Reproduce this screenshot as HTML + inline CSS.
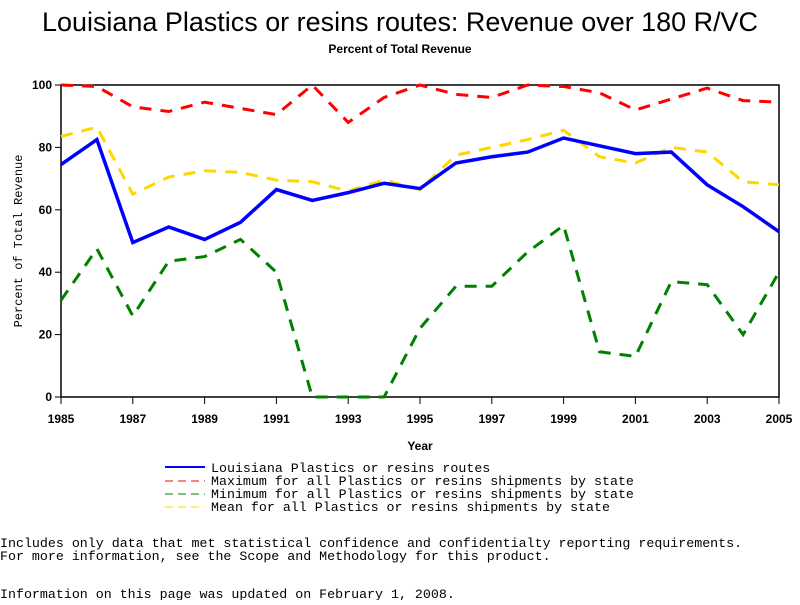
<!DOCTYPE html>
<html><head><meta charset="utf-8"><style>
body{margin:0;background:#fff;width:800px;height:600px;overflow:hidden}
svg text{font-family:"Liberation Sans",sans-serif}
.m{font-family:"Liberation Mono",monospace;font-size:13.3px}
</style></head><body>
<svg id="c" width="800" height="600">
<text x="400" y="31" font-size="26.5" text-anchor="middle" textLength="716" lengthAdjust="spacingAndGlyphs">Louisiana Plastics or resins routes: Revenue over 180 R/VC</text>
<text x="400" y="53" font-size="12" font-weight="bold" text-anchor="middle">Percent of Total Revenue</text>
<rect x="61" y="85" width="718" height="312" fill="none" stroke="#000" stroke-width="1.5"/>
<g id="axes"></g>
<g id="series"></g>
<text transform="translate(22,241) rotate(-90)" text-anchor="middle" style="font-family:'Liberation Mono',monospace;font-size:12px">Percent of Total Revenue</text>
<text x="420" y="450" font-size="12" font-weight="bold" text-anchor="middle">Year</text>
<g>
<line x1="165" y1="467" x2="205" y2="467" stroke="#0000ff" stroke-width="2"/>
<text x="211" y="472" class="m">Louisiana Plastics or resins routes</text>
<line x1="165" y1="481" x2="205" y2="481" stroke="#ff0000" stroke-dasharray="8,5"/>
<text x="211" y="485" class="m">Maximum for all Plastics or resins shipments by state</text>
<line x1="165" y1="494" x2="205" y2="494" stroke="#008000" stroke-dasharray="8,5"/>
<text x="211" y="498" class="m">Minimum for all Plastics or resins shipments by state</text>
<line x1="165" y1="507" x2="205" y2="507" stroke="#ffd700" stroke-dasharray="8,5"/>
<text x="211" y="511" class="m">Mean for all Plastics or resins shipments by state</text>
</g>
<text x="0" y="547" class="m">Includes only data that met statistical confidence and confidentialty reporting requirements.</text>
<text x="0" y="560" class="m">For more information, see the Scope and Methodology for this product.</text>
<text x="0" y="598" class="m">Information on this page was updated on February 1, 2008.</text>
</svg>
<script>
const years=[1985,1986,1987,1988,1989,1990,1991,1992,1993,1994,1995,1996,1997,1998,1999,2000,2001,2002,2003,2004,2005];
const louisiana=[74.5,82.5,49.5,54.5,50.5,56,66.5,63,65.5,68.5,66.8,75,77,78.5,83,80.5,78,78.5,68,61,53];
const maximum=[100,99.5,93,91.5,94.5,92.5,90.5,100,88,96,100,97,96,100,99.5,97.5,92,95.5,99,95,94.5];
const minimum=[31,47.5,26,43.5,45,50.5,40,0,0,0,22,35.5,35.5,46.5,55,14.5,13,37,36,20,40];
const mean=[83.5,86.5,65,70.5,72.5,72,69.5,69,66,69.5,66.5,77.5,80,82.5,85.5,77,75,80,78.5,69,68];
const yTicks=[0,20,40,60,80,100];
const xTickLabels=[1985,1987,1989,1991,1993,1995,1997,1999,2001,2003,2005];
const NS="http://www.w3.org/2000/svg";
const X=v=>61+(v-1985)*(718/20), Y=v=>397-v*3.12;
const ax=document.getElementById('axes'), sg=document.getElementById('series');
function mk(t,a,p){const e=document.createElementNS(NS,t);for(const k in a)e.setAttribute(k,a[k]);p.appendChild(e);return e;}
yTicks.forEach(v=>{
 mk('line',{x1:55,x2:61,y1:Y(v),y2:Y(v),stroke:'#000'},ax);
 const t=mk('text',{x:52,y:Y(v)+4,'font-size':12,'font-weight':'bold','text-anchor':'end'},ax);t.textContent=v;
 
 
});
xTickLabels.forEach(v=>{
 mk('line',{x1:X(v),x2:X(v),y1:397,y2:404,stroke:'#000'},ax);
 const t=mk('text',{x:X(v),y:423,'font-size':12,'font-weight':'bold','text-anchor':'middle'},ax);t.textContent=v;
 
 
});
function line(d,col,w,dash,name){
 const p=mk('polyline',{points:d.map((v,i)=>X(years[i])+','+Y(v)).join(' '),fill:'none',stroke:col,'stroke-width':w,'stroke-dasharray':dash},sg);
 
 
}
line(maximum,'#ff0000',3,'12,9','series-maximum');
line(mean,'#ffd700',3,'12,9','series-mean');
line(minimum,'#008000',3,'12,9','series-minimum');
line(louisiana,'#0000ff',3.5,'none','series-louisiana');
</script>
</body></html>
